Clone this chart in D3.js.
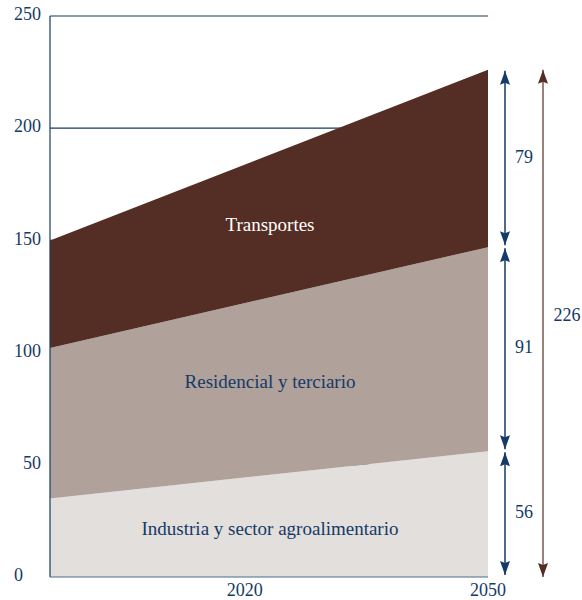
<!DOCTYPE html>
<html>
<head>
<meta charset="utf-8">
<script src="https://cdn.jsdelivr.net/npm/d3@7"></script>
<style>
  body { margin: 0; background: #fff; }
  text { font-family: "Liberation Serif", "DejaVu Serif", serif; }
</style>
</head>
<body>
<div id="chart"></div>
<script>
// data
const years = [1996, 2050];
const industria = [35, 56];
const residencial = [67, 91];
const transportes = [48, 79];
const seriesNames = ["Industria y sector agroalimentario", "Residencial y terciario", "Transportes"];
const yTicks = [0, 50, 100, 150, 200, 250];
const xTicks = [2020, 2050];
const totals = [226];

const width = 582;
const height = 600;
const margin = { top: 16, right: 94, bottom: 23, left: 50 };

const navy = "#153a66";
const colors = ["#e3dfdc", "#b0a19b", "#542d24"];
const labelColors = [navy, navy, "#ffffff"];

const svg = d3
  .select("#chart")
  .append("svg")
  .attr("width", width)
  .attr("height", height);

const x = d3
  .scaleLinear()
  .domain(d3.extent(years))
  .range([margin.left, width - margin.right]);

const y = d3
  .scaleLinear()
  .domain([0, 250])
  .range([height - margin.bottom, margin.top]);

// build table for stack
const table = years.map((yr, i) => ({
  year: yr,
  [seriesNames[0]]: industria[i],
  [seriesNames[1]]: residencial[i],
  [seriesNames[2]]: transportes[i],
}));
const stacked = d3.stack().keys(seriesNames)(table);

// gridlines (under the areas)
svg
  .append("g")
  .selectAll("line")
  .data(yTicks.filter((d) => d > 0))
  .enter()
  .append("line")
  .attr("x1", x.range()[0])
  .attr("x2", x.range()[1])
  .attr("y1", (d) => y(d))
  .attr("y2", (d) => y(d))
  .style("stroke", navy)
  .style("stroke-width", 1.2);

const area = d3
  .area()
  .x((d) => x(d.data.year))
  .y0((d) => y(d[0]))
  .y1((d) => y(d[1]));

svg
  .append("g")
  .selectAll("path")
  .data(stacked)
  .enter()
  .append("path")
  .attr("d", area)
  .style("fill", (d, i) => colors[i]);

// area labels
const labelPos = [20.5, 86, 156];
svg
  .append("g")
  .selectAll("text")
  .data(stacked)
  .enter()
  .append("text")
  .attr("x", 270)
  .attr("y", (d, i) => y(labelPos[i]))
  .attr("text-anchor", "middle")
  .attr("dominant-baseline", "middle")
  .style("font-size", "19px")
  .style("fill", (d, i) => labelColors[i])
  .text((d) => d.key);

// axes
svg
  .append("line")
  .attr("x1", x.range()[0])
  .attr("x2", x.range()[0])
  .attr("y1", y(0))
  .attr("y2", y(250))
  .style("stroke", navy)
  .style("stroke-width", 1.2);

svg
  .append("line")
  .attr("x1", x.range()[0])
  .attr("x2", x.range()[1])
  .attr("y1", y(0))
  .attr("y2", y(0))
  .style("stroke", "#4d6a8c")
  .style("stroke-width", 1.2);

svg
  .append("g")
  .selectAll("text")
  .data(yTicks)
  .enter()
  .append("text")
  .attr("x", (d) => (d === 0 ? 14 : 41))
  .attr("y", (d) => y(d))
  .attr("text-anchor", (d) => (d === 0 ? "start" : "end"))
  .attr("dominant-baseline", "middle")
  .style("font-size", "18px")
  .style("fill", navy)
  .text((d) => d);

svg
  .append("g")
  .selectAll("text")
  .data(xTicks)
  .enter()
  .append("text")
  .attr("x", (d) => x(d))
  .attr("y", 592)
  .attr("text-anchor", "middle")
  .attr("dominant-baseline", "middle")
  .style("font-size", "18px")
  .style("fill", navy)
  .text((d) => d);

// arrow markers
const defs = svg.append("defs");
[["navy", navy], ["brown", "#542d24"]].forEach(([id, c]) => {
  defs
    .append("marker")
    .attr("id", "arr-" + id)
    .attr("viewBox", "0 0 14 10")
    .attr("refX", 14)
    .attr("refY", 5)
    .attr("markerWidth", 14)
    .attr("markerHeight", 10)
    .attr("markerUnits", "userSpaceOnUse")
    .attr("orient", "auto-start-reverse")
    .append("path")
    .attr("d", "M0,0 L14,5 L0,10 L2,5 Z")
    .style("fill", c);
});

// segment arrows at the last year
const last = stacked.map((s) => s[s.length - 1]).reverse();
const arrowX = 505;
svg
  .append("g")
  .selectAll("line")
  .data(last)
  .enter()
  .append("line")
  .attr("x1", arrowX)
  .attr("x2", arrowX)
  .attr("y1", (d) => y(d[1]) + 1)
  .attr("y2", (d) => y(d[0]) - 2)
  .style("stroke", navy)
  .style("stroke-width", 1.5)
  .attr("marker-start", "url(#arr-navy)")
  .attr("marker-end", "url(#arr-navy)");

svg
  .append("g")
  .selectAll("text")
  .data(last)
  .enter()
  .append("text")
  .attr("x", 524)
  .attr("y", (d) => y((d[0] + d[1]) / 2))
  .attr("text-anchor", "middle")
  .attr("dominant-baseline", "middle")
  .style("font-size", "18px")
  .style("fill", navy)
  .text((d) => d[1] - d[0]);

// total arrow
const totalX = 543;
svg
  .append("line")
  .attr("x1", totalX)
  .attr("x2", totalX)
  .attr("y1", y(totals[0]))
  .attr("y2", y(0))
  .style("stroke", "#542d24")
  .style("stroke-width", 1.2)
  .attr("marker-start", "url(#arr-brown)")
  .attr("marker-end", "url(#arr-brown)");

svg
  .append("text")
  .attr("x", 567)
  .attr("y", y(totals[0] / 2) - 7)
  .attr("text-anchor", "middle")
  .attr("dominant-baseline", "middle")
  .style("font-size", "18px")
  .style("fill", navy)
  .text(totals[0]);
</script>
</body>
</html>
